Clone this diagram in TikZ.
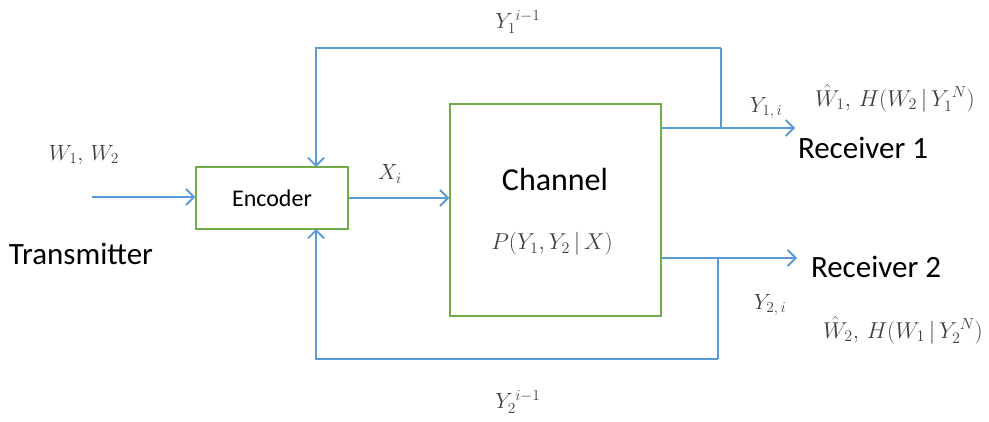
\RequirePackage{fix-cm}
\documentclass[tikz,border=0pt]{standalone}
\usepackage{fontspec}
\setmainfont{Carlito}
\usetikzlibrary{arrows.meta}
\definecolor{lblue}{HTML}{5B9BD5}
\definecolor{lgreen}{HTML}{70AD47}
\definecolor{mgray}{HTML}{404040}
\begin{document}
\begin{tikzpicture}[x=1pt,y=-1pt,
  blk/.style={draw=lgreen,line width=1.5pt,inner sep=0pt},
  conn/.style={draw=lblue,line width=1.8pt,-{Straight Barb[length=8pt,width=16pt,line width=1.8pt]}},
  line/.style={draw=lblue,line width=1.8pt},
  mlab/.style={text=mgray,font=\fontsize{22}{26}\selectfont,inner sep=0pt},
  blab/.style={text=mgray,font=\fontsize{23}{27}\selectfont,inner sep=0pt},
  tlab/.style={font=\fontsize{31}{36}\selectfont,inner sep=0pt}]
\useasboundingbox (0,0) rectangle (989,422);
\node[blk,minimum width=152pt,minimum height=62pt] (enc) at (272,198) {};
\node[font=\fontsize{24}{28}\selectfont] (enclab) at (enc.center) {Encoder};
\node[blk,minimum width=211pt,minimum height=212pt] (ch) at (555.5,210) {};
\node[font=\fontsize{32}{38}\selectfont] (chlab) at (555,180) {Channel};
\node[blab] (pl) at (552,244) {$P(Y_1,Y_2\,|\,X)$};
\coordinate (in) at (92,197);
\coordinate (o1) at (795,128);
\coordinate (o2) at (797,258);
\coordinate (t1) at (721,48);
\coordinate (t2) at (718,359);
\coordinate (b1) at (721,128);
\coordinate (b2) at (718,258);
\draw[conn] (in) -- (enc.west |- in);
\draw[conn] (enc.east |- 0,198) -- (ch.west |- 0,198);
\draw[conn] (ch.east |- o1) -- (o1);
\draw[conn] (ch.east |- o2) -- (o2);
\draw[line] (b1) -- (t1);
\draw[conn] (t1) -- (316,48) -- (316,167);
\draw[line] (b2) -- (t2);
\draw[conn] (t2) -- (316,359) -- (316,229);
\node[mlab] (ya) at (518,22) {$Y_1^{\,i-1}$};
\node[mlab] (yb) at (518,402) {$Y_2^{\,i-1}$};
\node[mlab] (xi) at (390,174) {$X_i$};
\node[mlab] (y1i) at (766,108) {$Y_{1,\,i}$};
\node[mlab] (y2i) at (770,305) {$Y_{2,\,i}$};
\node[mlab] (w) at (84,155) {$W_1,\,W_2$};
\node[tlab] (tx) at (81,254) {Transmitter};
\node[tlab] (r1) at (863,148) {Receiver 1};
\node[tlab] (r2) at (876,267) {Receiver 2};
\node[blab] (h1) at (895,98) {$\hat{W}_1,\,H(W_2\,\big|\,Y_1^{\,N})$};
\node[blab] (h2) at (903,330) {$\hat{W}_2,\,H(W_1\,\big|\,Y_2^{\,N})$};
\end{tikzpicture}
\end{document}
